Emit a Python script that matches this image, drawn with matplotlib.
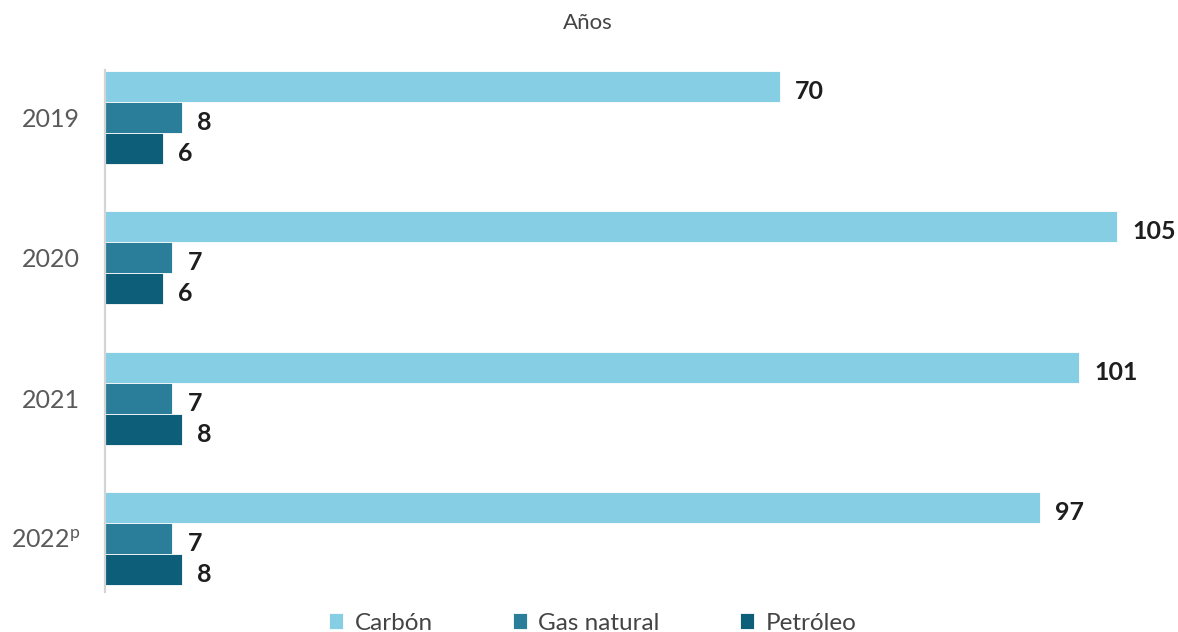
import numpy as np
import matplotlib.pyplot as plt

plt.rcParams['font.family'] = ['Lato', 'DejaVu Sans']
plt.rcParams['mathtext.default'] = 'regular'

# datos
anios = ["2019", "2020", "2021", "2022$^{p}$"]
series = ["Carbón", "Gas natural", "Petróleo"]
carbon = [70, 105, 101, 97]
gas_natural = [8, 7, 7, 7]
petroleo = [6, 6, 8, 8]

colores = ["#85CEE4", "#2B7E99", "#0D5E78"]
valores = [carbon, gas_natural, petroleo]

fig = plt.figure(figsize=(11.78, 6.32), dpi=100)
ax = fig.add_axes([0.0891, 0.0633, 0.9109, 0.8259])

y = np.arange(len(anios))
h = 0.221
for k, (nombre, vals, col) in enumerate(zip(series, valores, colores)):
    pos = y + (k - 1) * h
    ax.barh(pos, vals, height=h, color=col, label=nombre, edgecolor="white", linewidth=0.6)
    for p, v in zip(pos, vals):
        ax.annotate(str(v), (v, p), xytext=(11, -3.5),
                    textcoords="offset points", va="center", ha="left",
                    fontsize=18, fontweight="bold", color="#1e1e1e")

ax.set_xlim(0, 111.3)
ax.set_ylim(3.38, -0.339)
ax.set_yticks(y)
ax.set_yticklabels(anios, fontsize=18, color="#5a5a5a")
ax.tick_params(axis="y", length=0, pad=18)
ax.set_xticks([])
for s in ["top", "right", "bottom"]:
    ax.spines[s].set_visible(False)
ax.spines["left"].set_color("#d4d4d4")
ax.spines["left"].set_linewidth(1.6)

fig.text(0.499, 0.963, "Años", ha="center", va="center", fontsize=16, color="#444444")

fig.legend(loc="lower center", bbox_to_anchor=(0.503, -0.037), ncol=3, frameon=False,
           fontsize=17.5, handlelength=0.6, handleheight=0.6, handletextpad=0.45,
           columnspacing=3.3, labelcolor="#444444")

fig.savefig("out.png", dpi=100)
